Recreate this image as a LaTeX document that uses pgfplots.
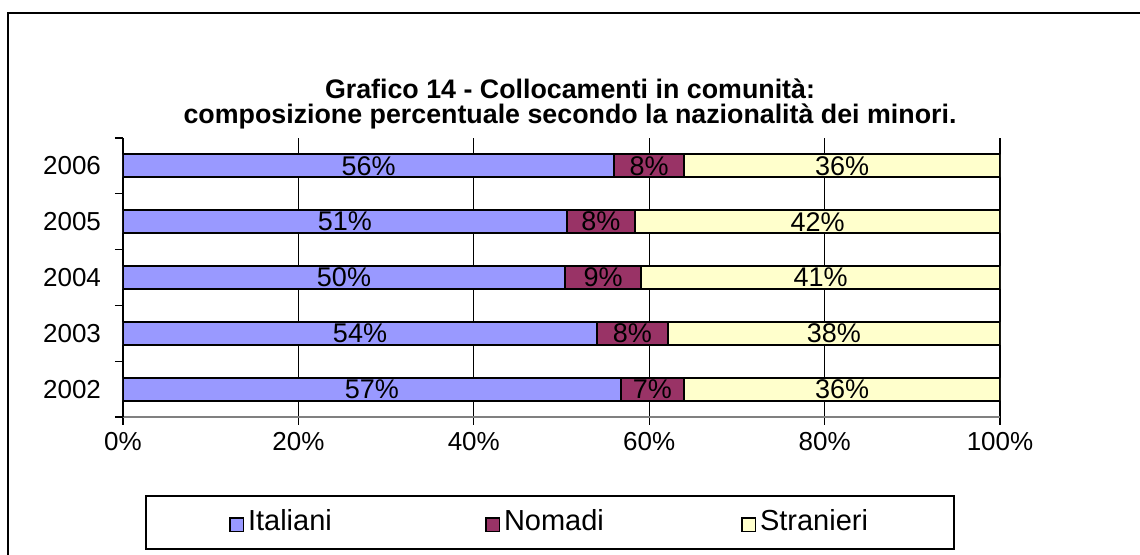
\documentclass[border=0pt]{standalone}
\usepackage{pgfplots}
\pgfplotsset{compat=1.18}
\usepackage{pgfplotstable}
\usepackage{fontspec}
\setmainfont{Liberation Sans}

\definecolor{cIt}{HTML}{9999FF}
\definecolor{cNo}{HTML}{993366}
\definecolor{cSt}{HTML}{FFFFCC}

\pgfplotstableread{
idx it no st itl nol stl
0 56.75 7.25 36.0 57 7 36
1 54.05 8.05 37.9 54 8 38
2 50.4 8.7 40.9 50 9 41
3 50.6 7.8 41.6 51 8 42
4 56.0 8.0 36.0 56 8 36
}\datatable

\newcommand{\lbl}{\fontsize{13}{13}\selectfont}
\newcommand{\legsq}[1]{\tikz[baseline=0pt]\draw[fill=#1, draw=black, line width=0.9pt] (0pt,-0.3pt) rectangle (6.6pt,6.3pt);\hspace{1.8pt}}

\begin{document}
\begin{tikzpicture}
\useasboundingbox (0pt,0pt) rectangle (570pt,277.5pt);
\draw[line width=1pt] (4pt,-2pt) -- (4pt,271pt) -- (572pt,271pt);
\node[font=\bfseries\fontsize{13.4}{12.5}\selectfont, align=center] at (285pt,225.5pt)
  {Grafico 14 - Collocamenti in comunità:\\composizione percentuale secondo la nazionalità dei minori.};
\draw[line width=0.8pt] (73pt,3pt) rectangle (477pt,29.5pt);
\begin{axis}[
  at={(61.5pt,69pt)}, anchor=south west,
  width=438.5pt, height=139.5pt, scale only axis,
  xbar stacked, bar width=11.5pt,
  xmin=0, xmax=100, ymin=-0.5, ymax=4.5,
  axis x line*=bottom, axis y line*=left,
  x axis line style={draw=gray, line width=0.8pt},
  y axis line style={draw=black, line width=0.6pt},
  xtick={0,20,40,60,80,100},
  xticklabels={0\%,20\%,40\%,60\%,80\%,100\%},
  xmajorgrids, grid style={black, line width=0.6pt},
  ytick={-0.5,0.5,1.5,2.5,3.5,4.5}, yticklabels={},
  extra y ticks={0,1,2,3,4},
  extra y tick labels={2002,2003,2004,2005,2006},
  extra y tick style={tick style={draw=none}, yticklabel style={xshift=-3.5pt}},
  tick align=outside, major tick length=4pt,
  tick style={black, line width=0.6pt},
  ticklabel style={font=\lbl},
  legend columns=3,
  legend style={draw=none, fill=none, at={(0.1209,-0.376)}, anchor=west,
    inner xsep=0pt, inner ysep=0pt,
    nodes={inner sep=0pt, text width=128pt, align=left, font=\fontsize{14.5}{14.5}\selectfont}},
  legend cell align=left,
  legend image code/.code={},
  nodes near coords={\pgfmathprintnumber[fixed,precision=0,assume math mode=true]{\lab}\%},
  every node near coord/.append style={anchor=center, font=\fontsize{13.5}{13.5}\selectfont},
]
\addplot[fill=cIt, draw=black, line width=1pt,
  legend image code/.code={},
  visualization depends on={\thisrow{itl} \as \lab}]
  table[x=it, y=idx] {\datatable};
\addplot[fill=cNo, draw=black, line width=1pt,
  legend image code/.code={},
  visualization depends on={\thisrow{nol} \as \lab}]
  table[x=no, y=idx] {\datatable};
\addplot[fill=cSt, draw=black, line width=1pt,
  legend image code/.code={},
  visualization depends on={\thisrow{stl} \as \lab}]
  table[x=st, y=idx] {\datatable};
\legend{{\legsq{cIt}Italiani}, {\legsq{cNo}Nomadi}, {\legsq{cSt}Stranieri}}
\end{axis}
\end{tikzpicture}
\end{document}
